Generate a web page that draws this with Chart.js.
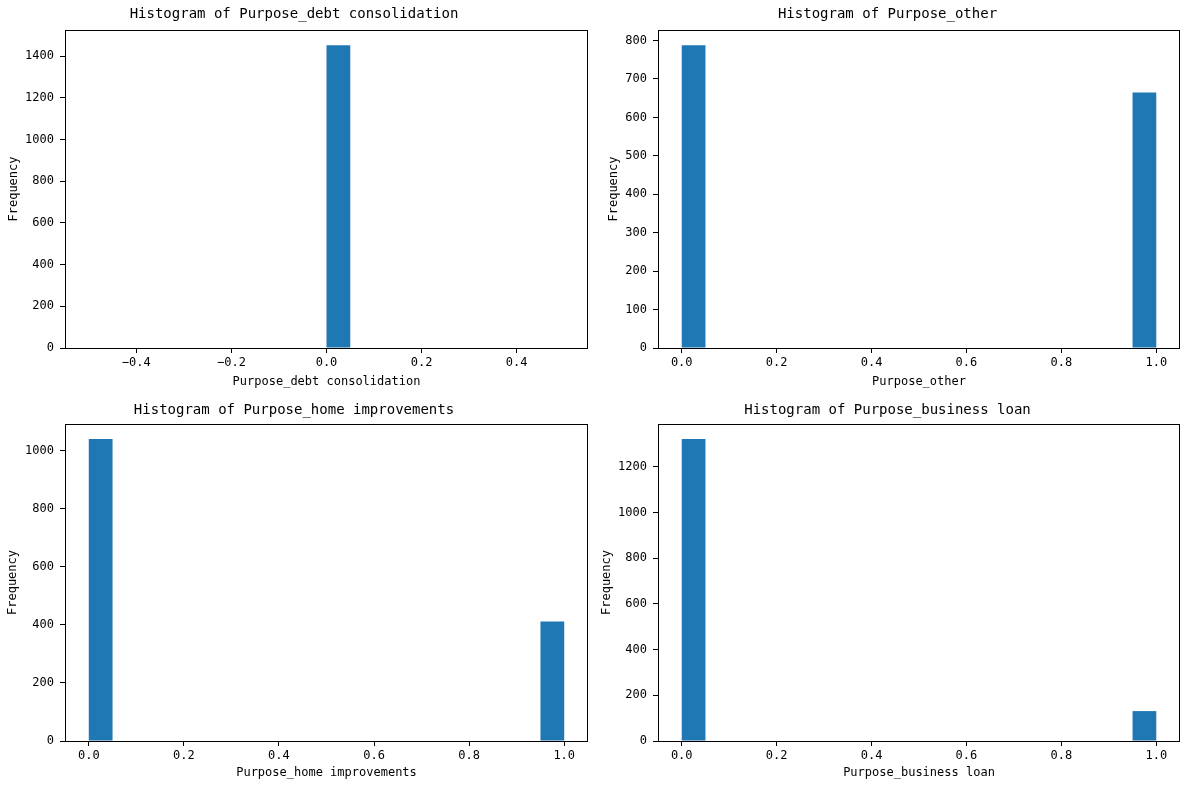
<!DOCTYPE html>
<html>
<head>
<meta charset="utf-8">
<script src="https://cdn.jsdelivr.net/npm/chart.js@4.4.0/dist/chart.umd.min.js"></script>
<style>
    body { margin: 0; background: #fff; }
    #page { position: relative; width: 1189px; height: 790px; }
    .panel { position: absolute; width: 594px; height: 395px; }
</style>
</head>
<body>
<div id="page">
    <div class="panel" style="left:0;top:0"><canvas id="c1"></canvas></div>
    <div class="panel" style="left:595px;top:0"><canvas id="c2"></canvas></div>
    <div class="panel" style="left:0;top:395px"><canvas id="c3"></canvas></div>
    <div class="panel" style="left:595px;top:395px"><canvas id="c4"></canvas></div>
</div>
<script>
// Histogram bin centres (20 bins each)
const binsDebt = [-0.475, -0.425, -0.375, -0.325, -0.275, -0.225, -0.175, -0.125, -0.075, -0.025,
                  0.025, 0.075, 0.125, 0.175, 0.225, 0.275, 0.325, 0.375, 0.425, 0.475];
const bins01 = [0.025, 0.075, 0.125, 0.175, 0.225, 0.275, 0.325, 0.375, 0.425, 0.475,
                0.525, 0.575, 0.625, 0.675, 0.725, 0.775, 0.825, 0.875, 0.925, 0.975];

// Frequencies
const debtCounts     = [0, 0, 0, 0, 0, 0, 0, 0, 0, 0, 1453, 0, 0, 0, 0, 0, 0, 0, 0, 0];
const otherCounts    = [788, 0, 0, 0, 0, 0, 0, 0, 0, 0, 0, 0, 0, 0, 0, 0, 0, 0, 0, 665];
const homeCounts     = [1041, 0, 0, 0, 0, 0, 0, 0, 0, 0, 0, 0, 0, 0, 0, 0, 0, 0, 0, 412];
const businessCounts = [1322, 0, 0, 0, 0, 0, 0, 0, 0, 0, 0, 0, 0, 0, 0, 0, 0, 0, 0, 131];

// Tick values
const xTicksDebt = [-0.4, -0.2, 0.0, 0.2, 0.4];
const xTicks01   = [0.0, 0.2, 0.4, 0.6, 0.8, 1.0];
const yTicksDebt     = [0, 200, 400, 600, 800, 1000, 1200, 1400];
const yTicksOther    = [0, 100, 200, 300, 400, 500, 600, 700, 800];
const yTicksHome     = [0, 200, 400, 600, 800, 1000];
const yTicksBusiness = [0, 200, 400, 600, 800, 1000, 1200];

const FONT = "'DejaVu Sans Mono', monospace";
const BAR_COLOR = '#1f77b4';

// draws the black box around the plot area
const frame = {
    id: 'frame',
    afterDraw(chart) {
        const { ctx, chartArea: a } = chart;
        ctx.save();
        ctx.strokeStyle = '#000';
        ctx.lineWidth = 1;
        ctx.strokeRect(Math.round(a.left) + 0.5, Math.round(a.top) + 0.5,
            Math.round(a.right - a.left) - 1, Math.round(a.bottom - a.top));
        ctx.restore();
    }
};

function fmtX(v) {
    const s = Math.abs(v).toFixed(1);
    return v < -1e-9 ? '\u2212' + s : s;
}

function makeHist(id, opts) {
    const yMax = Math.max(...opts.counts) * 1.05;
    new Chart(document.getElementById(id), {
        type: 'bar',
        data: {
            datasets: [{
                data: opts.bins.map((b, i) => ({ x: b, y: opts.counts[i] })),
                backgroundColor: BAR_COLOR,
                borderColor: BAR_COLOR,
                borderWidth: 0,
                inflateAmount: 0,
                barPercentage: 1,
                categoryPercentage: 1
            }]
        },
        plugins: [frame],
        options: {
            responsive: true,
            maintainAspectRatio: false,
            animation: false,
            events: [],
            layout: { padding: { left: 0, right: opts.padRight, top: 0, bottom: 0 } },
            plugins: {
                legend: { display: false },
                tooltip: { enabled: false },
                title: {
                    display: true,
                    text: opts.title,
                    color: '#000',
                    font: { family: FONT, size: 14, weight: 'normal', lineHeight: '16px' },
                    padding: opts.titlePad
                }
            },
            scales: {
                x: {
                    type: 'linear',
                    offset: false,
                    min: opts.xMin,
                    max: opts.xMax,
                    afterBuildTicks: (s) => { s.ticks = opts.xTicks.map(v => ({ value: v })); },
                    afterFit: (s) => { s.height = opts.xAxisH; },
                    border: { display: false },
                    grid: { drawOnChartArea: false, drawTicks: true, tickLength: 5, color: '#000', offset: false },
                    ticks: {
                        maxRotation: 0,
                        autoSkip: false,
                        padding: 3,
                        color: '#000',
                        font: { family: FONT, size: 12 },
                        callback: (v) => fmtX(v)
                    },
                    title: {
                        display: true,
                        text: opts.xLabel,
                        color: '#000',
                        font: { family: FONT, size: 12, lineHeight: '14px' },
                        padding: { top: 0, bottom: opts.xTitlePad }
                    }
                },
                y: {
                    min: 0,
                    max: yMax,
                    afterBuildTicks: (s) => { s.ticks = opts.yTicks.map(v => ({ value: v })); },
                    afterFit: (s) => { s.width = opts.yAxisW; },
                    border: { display: false },
                    grid: { drawOnChartArea: false, drawTicks: true, tickLength: 5, color: '#000' },
                    ticks: {
                        autoSkip: false,
                        padding: 6,
                        color: '#000',
                        font: { family: FONT, size: 12 },
                        callback: (v) => String(Math.round(v))
                    },
                    title: {
                        display: true,
                        text: 'Frequency',
                        color: '#000',
                        font: { family: FONT, size: 12, lineHeight: '14px' },
                        padding: { top: opts.yTitlePad, bottom: 0 }
                    }
                }
            }
        }
    });
}

makeHist('c1', {
    bins: binsDebt, counts: debtCounts, xMin: -0.55, xMax: 0.55, xTicks: xTicksDebt, yTicks: yTicksDebt,
    title: 'Histogram of Purpose_debt consolidation', xLabel: 'Purpose_debt consolidation',
    padRight: 6, yAxisW: 65, xAxisH: 47, titlePad: { top: 6, bottom: 8 }, xTitlePad: 6, yTitlePad: 7
});
makeHist('c2', {
    bins: bins01, counts: otherCounts, xMin: -0.05, xMax: 1.05, xTicks: xTicks01, yTicks: yTicksOther,
    title: 'Histogram of Purpose_other', xLabel: 'Purpose_other',
    padRight: 9, yAxisW: 63, xAxisH: 47, titlePad: { top: 6, bottom: 8 }, xTitlePad: 6, yTitlePad: 12
});
makeHist('c3', {
    bins: bins01, counts: homeCounts, xMin: -0.05, xMax: 1.05, xTicks: xTicks01, yTicks: yTicksHome,
    title: 'Histogram of Purpose_home improvements', xLabel: 'Purpose_home improvements',
    padRight: 6, yAxisW: 65, xAxisH: 49, titlePad: { top: 7, bottom: 6 }, xTitlePad: 10, yTitlePad: 6
});
makeHist('c4', {
    bins: bins01, counts: businessCounts, xMin: -0.05, xMax: 1.05, xTicks: xTicks01, yTicks: yTicksBusiness,
    title: 'Histogram of Purpose_business loan', xLabel: 'Purpose_business loan',
    padRight: 9, yAxisW: 63, xAxisH: 49, titlePad: { top: 7, bottom: 6 }, xTitlePad: 10, yTitlePad: 5
});
</script>
</body>
</html>
